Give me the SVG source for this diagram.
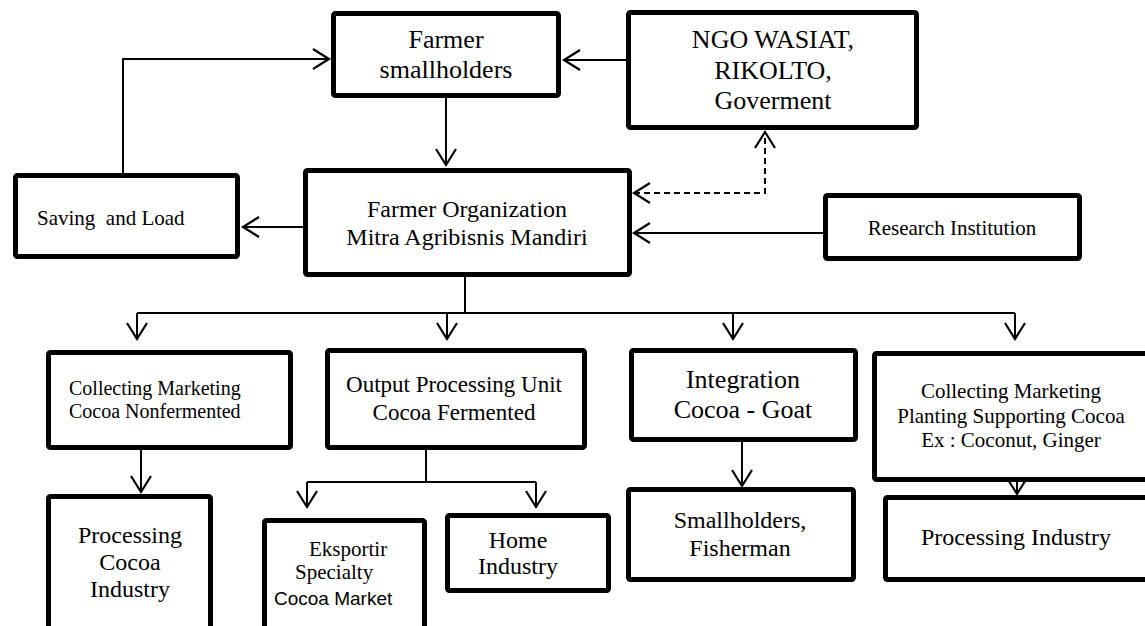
<svg xmlns="http://www.w3.org/2000/svg" width="1145" height="626" viewBox="0 0 1145 626">
<style>
.box{fill:#fff;stroke:#000;stroke-width:5;}
.t{font-family:"Liberation Serif","Times New Roman",serif;fill:#000;text-anchor:middle;}
.l{font-family:"Liberation Serif","Times New Roman",serif;fill:#000;text-anchor:start;}
.s{font-family:"Liberation Sans",Arial,sans-serif;fill:#000;text-anchor:start;}
.c{fill:none;stroke:#000;stroke-width:2;}
.d{fill:none;stroke:#000;stroke-width:2;stroke-dasharray:6 4;}
</style>
<defs>
<marker id="ah" viewBox="-20 -13 24 26" markerWidth="24" markerHeight="26" refX="0" refY="0" markerUnits="userSpaceOnUse" orient="auto-start-reverse">
<path d="M-16,-10 L0,0 L-16,10" fill="none" stroke="#000" stroke-width="2.2"/>
</marker>
</defs>
<rect width="1145" height="626" fill="#fff"/>
<g id="connectors">
<path class="c" d="M123,173 V59 H329" marker-end="url(#ah)"/>
<path class="c" d="M626,60 H564" marker-end="url(#ah)"/>
<path class="c" d="M446,98 V165" marker-end="url(#ah)"/>
<path class="c" d="M303,227 H243" marker-end="url(#ah)"/>
<path class="c" d="M823,233 H634" marker-end="url(#ah)"/>
<path class="d" d="M634,193 H765 V132" marker-start="url(#ah)" marker-end="url(#ah)"/>
<path class="c" d="M465,277 V313"/>
<path class="c" d="M137,313 H1015"/>
<path class="c" d="M137,313 V339" marker-end="url(#ah)"/>
<path class="c" d="M447,313 V339" marker-end="url(#ah)"/>
<path class="c" d="M733,313 V339" marker-end="url(#ah)"/>
<path class="c" d="M1015,313 V339" marker-end="url(#ah)"/>
<path class="c" d="M141,450 V492" marker-end="url(#ah)"/>
<path class="c" d="M426,450 V482"/>
<path class="c" d="M307,482 H536"/>
<path class="c" d="M307,482 V507" marker-end="url(#ah)"/>
<path class="c" d="M536,482 V507" marker-end="url(#ah)"/>
<path class="c" d="M742,442 V486" marker-end="url(#ah)"/>
<path class="c" d="M1017,482 V494" marker-end="url(#ah)"/>
</g>
<g id="farmer-smallholders">
<rect class="box" x="333.5" y="13.5" width="225" height="82" rx="2"/>
<text class="t" x="446" y="48" font-size="26">Farmer</text>
<text class="t" x="446" y="78" font-size="26">smallholders</text>
</g>
<g id="ngo">
<rect class="box" x="628.5" y="12.5" width="288" height="115" rx="2"/>
<text class="t" x="773" y="48" font-size="26">NGO WASIAT,</text>
<text class="t" x="773" y="79" font-size="26">RIKOLTO,</text>
<text class="t" x="773" y="109" font-size="26">Goverment</text>
</g>
<g id="saving">
<rect class="box" x="15.5" y="175.5" width="222" height="81" rx="2"/>
<text class="l" x="37" y="225" font-size="21" xml:space="preserve">Saving  and Load</text>
</g>
<g id="farmer-organization">
<rect class="box" x="305.5" y="170.5" width="324" height="104" rx="2"/>
<text class="t" x="467" y="217" font-size="24">Farmer Organization</text>
<text class="t" x="467" y="245" font-size="24">Mitra Agribisnis Mandiri</text>
</g>
<g id="research">
<rect class="box" x="825.5" y="195.5" width="254" height="63" rx="2"/>
<text class="t" x="952" y="235" font-size="21">Research Institution</text>
</g>
<g id="collecting-nonfermented">
<rect class="box" x="48.5" y="352.5" width="242" height="95" rx="2"/>
<text class="l" x="69" y="395" font-size="20">Collecting Marketing</text>
<text class="l" x="69" y="418" font-size="20">Cocoa Nonfermented</text>
</g>
<g id="output-processing">
<rect class="box" x="327.5" y="350.5" width="257" height="97" rx="2"/>
<text class="t" x="454" y="392" font-size="23">Output Processing Unit</text>
<text class="t" x="454" y="420" font-size="23">Cocoa Fermented</text>
</g>
<g id="integration">
<rect class="box" x="631.5" y="350.5" width="224" height="89" rx="2"/>
<text class="t" x="743" y="388" font-size="26">Integration</text>
<text class="t" x="743" y="418" font-size="26">Cocoa - Goat</text>
</g>
<g id="collecting-planting">
<rect class="box" x="874.5" y="353.5" width="280" height="126" rx="2"/>
<text class="t" x="1011" y="398" font-size="21">Collecting Marketing</text>
<text class="t" x="1011" y="423" font-size="21">Planting Supporting Cocoa</text>
<text class="t" x="1011" y="447" font-size="21">Ex : Coconut, Ginger</text>
</g>
<g id="processing-cocoa">
<rect class="box" x="48.5" y="496.5" width="162" height="140" rx="2"/>
<text class="t" x="130" y="543" font-size="24">Processing</text>
<text class="t" x="130" y="570" font-size="24">Cocoa</text>
<text class="t" x="130" y="597" font-size="24">Industry</text>
</g>
<g id="eksportir">
<rect class="box" x="264.5" y="520.5" width="160" height="120" rx="2"/>
<text class="l" x="309" y="556" font-size="21">Eksportir</text>
<text class="l" x="295" y="579" font-size="21">Specialty</text>
<text class="s" x="274" y="605" font-size="19">Cocoa Market</text>
</g>
<g id="home-industry">
<rect class="box" x="447.5" y="515.5" width="161" height="75" rx="2"/>
<text class="t" x="518" y="548" font-size="24">Home</text>
<text class="t" x="518" y="574" font-size="24">Industry</text>
</g>
<g id="smallholders-fisherman">
<rect class="box" x="628.5" y="489.5" width="225" height="90" rx="2"/>
<text class="t" x="740" y="528" font-size="24">Smallholders,</text>
<text class="t" x="740" y="556" font-size="24">Fisherman</text>
</g>
<g id="processing-industry">
<rect class="box" x="885.5" y="497.5" width="265" height="82" rx="2"/>
<text class="t" x="1016" y="545" font-size="24">Processing Industry</text>
</g>
</svg>
